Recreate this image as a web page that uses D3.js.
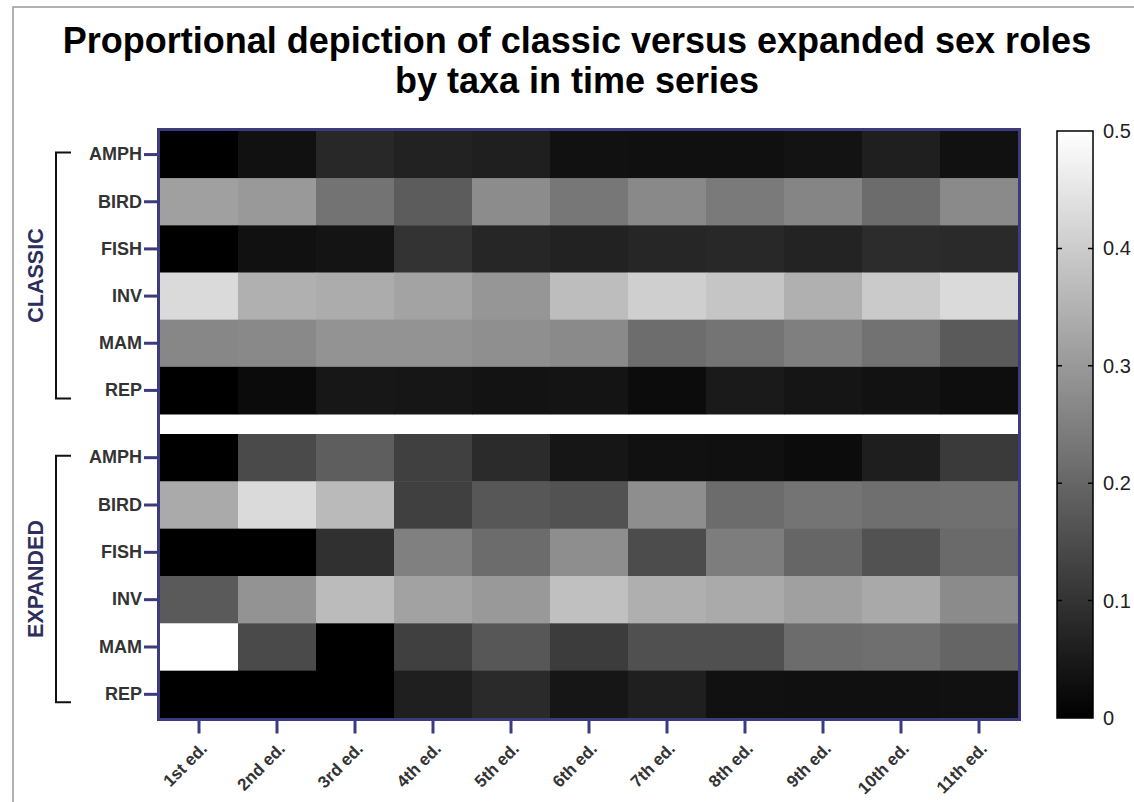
<!DOCTYPE html>
<html lang="en">
<head>
    <meta charset="UTF-8">
    <title>Sex roles by taxa</title>
    <script src="https://cdn.jsdelivr.net/npm/d3@7"></script>
    <style>
        body {
            margin: 0;
            background: #fff;
            font-family: "Liberation Sans", Arial, Helvetica, sans-serif;
        }
        .tick-label {
            font-size: 18px;
            font-weight: bold;
            fill: #333;
        }
        .x-label {
            font-size: 17px;
        }
    </style>
</head>
<body>
<script>
    var editions = ["1st ed.", "2nd ed.", "3rd ed.", "4th ed.", "5th ed.", "6th ed.",
        "7th ed.", "8th ed.", "9th ed.", "10th ed.", "11th ed."];
    var taxa = ["AMPH", "BIRD", "FISH", "INV", "MAM", "REP"];
    var groups = ["CLASSIC", "EXPANDED"];
    var legendTicks = [0, 0.1, 0.2, 0.3, 0.4, 0.5];

    // proportion per taxon, one value per edition
    var classic = [
        [0.000, 0.033, 0.078, 0.067, 0.061, 0.033, 0.031, 0.031, 0.037, 0.061, 0.033],
        [0.314, 0.300, 0.225, 0.180, 0.275, 0.233, 0.269, 0.239, 0.261, 0.212, 0.271],
        [0.000, 0.033, 0.039, 0.100, 0.075, 0.067, 0.075, 0.078, 0.069, 0.086, 0.082],
        [0.427, 0.345, 0.337, 0.320, 0.294, 0.371, 0.406, 0.386, 0.345, 0.396, 0.427],
        [0.265, 0.269, 0.288, 0.288, 0.280, 0.271, 0.214, 0.227, 0.249, 0.224, 0.176],
        [0.000, 0.022, 0.045, 0.043, 0.037, 0.039, 0.024, 0.051, 0.041, 0.035, 0.027]
    ];
    var expanded = [
        [0.000, 0.145, 0.184, 0.125, 0.084, 0.043, 0.033, 0.031, 0.024, 0.059, 0.114],
        [0.333, 0.427, 0.365, 0.125, 0.171, 0.161, 0.278, 0.212, 0.227, 0.218, 0.220],
        [0.000, 0.000, 0.094, 0.251, 0.212, 0.278, 0.149, 0.245, 0.200, 0.161, 0.208],
        [0.176, 0.288, 0.367, 0.318, 0.300, 0.376, 0.343, 0.333, 0.314, 0.331, 0.273],
        [0.500, 0.145, 0.000, 0.125, 0.171, 0.118, 0.157, 0.157, 0.212, 0.218, 0.198],
        [0.000, 0.000, 0.000, 0.061, 0.082, 0.043, 0.061, 0.033, 0.031, 0.031, 0.033]
    ];

    var W = 1134, H = 802;
    var navy = "#3b3b7e";
    var mLeft = 160, mRight = 1018, mTop = 131, mBottom = 718;
    var gapTop = 414, gapBottom = 434;

    var svg = d3.select("body").append("svg")
            .attr("width", W)
            .attr("height", H);

    // outer frame of the figure
    svg.append("rect")
            .attr("x", 13).attr("y", 7)
            .attr("width", W + 20).attr("height", H + 20)
            .attr("fill", "none")
            .attr("stroke", "#999")
            .attr("stroke-width", 1.5);

    // title
    var title = svg.append("text")
            .attr("text-anchor", "middle")
            .style("font-size", "36px")
            .style("font-weight", "bold")
            .style("fill", "#000");
    title.append("tspan").attr("x", 577).attr("y", 53)
            .text("Proportional depiction of classic versus expanded sex roles");
    title.append("tspan").attr("x", 577).attr("y", 93)
            .text("by taxa in time series");

    var x = d3.scaleBand().domain(editions).range([mLeft, mRight]);
    var yGroup = {
        CLASSIC: d3.scaleBand().domain(taxa).range([mTop, gapTop]),
        EXPANDED: d3.scaleBand().domain(taxa).range([gapBottom, mBottom])
    };
    var color = d3.scaleLinear().domain([0, 0.5]).range(["#000", "#fff"]);

    var tables = {CLASSIC: classic, EXPANDED: expanded};

    groups.forEach(function (g) {
        var y = yGroup[g];
        var cells = [];
        tables[g].forEach(function (row, i) {
            row.forEach(function (v, j) {
                cells.push({taxon: taxa[i], ed: editions[j], v: v});
            });
        });
        svg.append("g").selectAll("rect")
                .data(cells)
                .enter().append("rect")
                .attr("x", function (d) { return x(d.ed); })
                .attr("y", function (d) { return y(d.taxon); })
                .attr("width", x.bandwidth() + 0.5)
                .attr("height", y.bandwidth() + 0.5)
                .attr("fill", function (d) { return color(d.v); });

        // taxon axis
        var axis = svg.append("g")
                .attr("transform", "translate(" + (mLeft - 2) + ",0)")
                .call(d3.axisLeft(y).tickSize(14).tickPadding(2));
        axis.select(".domain").remove();
        axis.selectAll("line").attr("stroke", navy).attr("stroke-width", 3);
        axis.selectAll("text").attr("class", "tick-label").attr("font-family", null).attr("font-size", null);

        // bracket
        var b0 = y(taxa[0]) + y.bandwidth() / 2 - 2,
            b1 = y(taxa[taxa.length - 1]) + y.bandwidth() / 2 + 8;
        svg.append("path")
                .attr("d", "M71," + b0 + "H56V" + b1 + "H71")
                .attr("fill", "none")
                .attr("stroke", "#111")
                .attr("stroke-width", 2);

        svg.append("text")
                .attr("transform", "translate(43," + ((b0 + b1) / 2) + ") rotate(-90)")
                .attr("text-anchor", "middle")
                .style("font-size", "21.5px")
                .style("font-weight", "bold")
                .style("fill", "#2e2e5c")
                .text(g);
    });

    // heatmap frame
    svg.append("rect")
            .attr("x", mLeft - 1.5).attr("y", mTop - 1.5)
            .attr("width", mRight - mLeft + 3).attr("height", mBottom - mTop + 3)
            .attr("fill", "none")
            .attr("stroke", navy)
            .attr("stroke-width", 3);

    // edition axis
    var xAxis = svg.append("g")
            .attr("transform", "translate(0," + (mBottom + 1.5) + ")")
            .call(d3.axisBottom(x).tickSize(14).tickPadding(4));
    xAxis.select(".domain").remove();
    xAxis.selectAll("line").attr("stroke", navy).attr("stroke-width", 3);
    xAxis.selectAll("text")
            .attr("class", "tick-label x-label")
            .attr("font-family", null).attr("font-size", null)
            .attr("text-anchor", "end")
            .attr("x", 0).attr("y", 0)
            .attr("dy", "0.35em")
            .attr("transform", "translate(5,26) rotate(-45)");

    // colour legend
    var lx = 1057, lw = 36;
    var ly = d3.scaleLinear().domain([0, 0.5]).range([mBottom, mTop]);
    var grad = svg.append("defs").append("linearGradient")
            .attr("id", "grey")
            .attr("x1", 0).attr("y1", 1).attr("x2", 0).attr("y2", 0);
    grad.append("stop").attr("offset", 0).attr("stop-color", color(0));
    grad.append("stop").attr("offset", 1).attr("stop-color", color(0.5));

    svg.append("rect")
            .attr("x", lx).attr("y", ly(0.5))
            .attr("width", lw).attr("height", ly(0) - ly(0.5))
            .attr("fill", "url(#grey)")
            .attr("stroke", "#000")
            .attr("stroke-width", 1.5);

    var inner = legendTicks.filter(function (t) { return t > 0 && t < 0.5; });
    svg.append("g").selectAll("path")
            .data(inner)
            .enter().append("path")
            .attr("d", function (t) {
                var yy = ly(t);
                return "M" + lx + "," + yy + "h5M" + (lx + lw) + "," + yy + "h-5";
            })
            .attr("stroke", "#000")
            .attr("stroke-width", 1.5);

    svg.append("g").selectAll("text")
            .data(legendTicks)
            .enter().append("text")
            .attr("x", lx + lw + 10)
            .attr("y", function (t) { return ly(t); })
            .attr("dy", "0.35em")
            .style("font-size", "20px")
            .style("fill", "#222")
            .text(function (t) { return t === 0 ? "0" : d3.format(".1f")(t); });
</script>
</body>
</html>
